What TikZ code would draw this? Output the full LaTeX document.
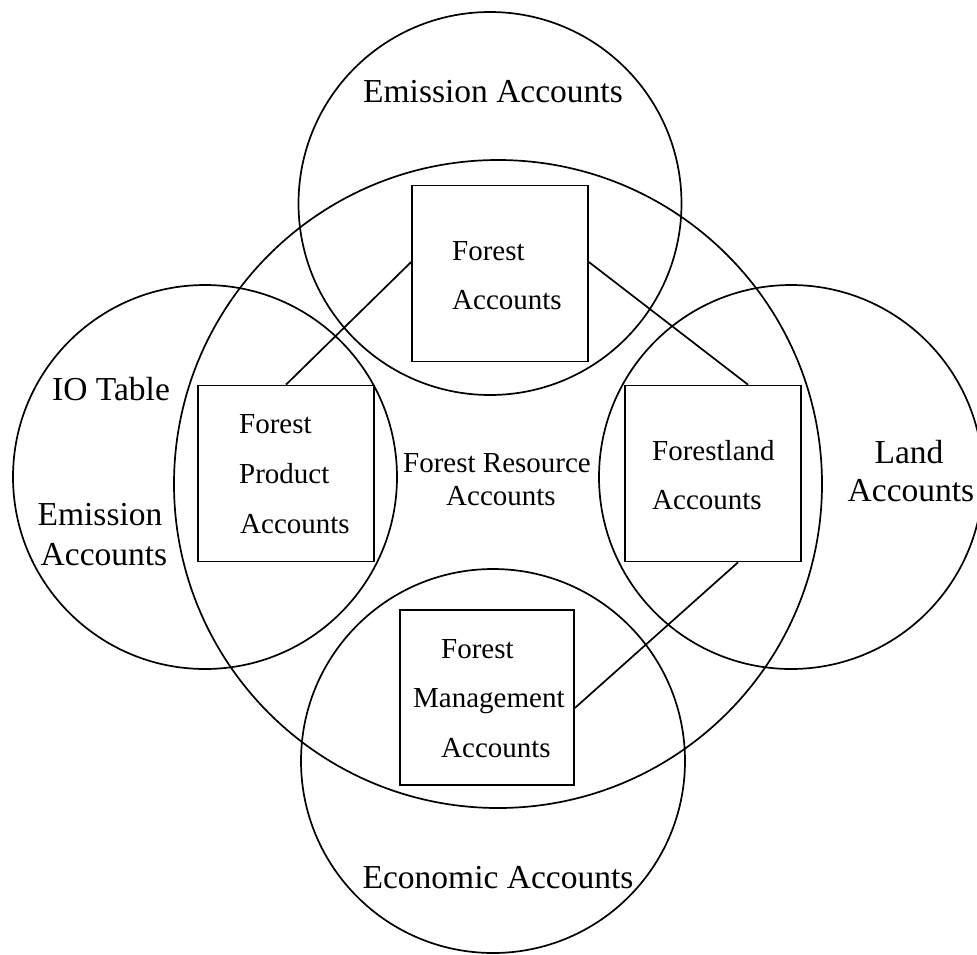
\documentclass[tikz,border=0pt]{standalone}
\usepackage{fontspec}
\setmainfont{Liberation Serif}
\begin{document}
\begin{tikzpicture}[x=1pt,y=-1pt,
  ring/.style={draw,circle,line width=1.7pt,inner sep=0pt},
  acct/.style={draw,rectangle,line width=1.7pt,inner sep=0pt,minimum width=176pt,minimum height=176pt},
  link/.style={line width=1.7pt},
  big/.style={inner sep=0pt,font=\fontsize{33.5}{36}\selectfont},
  small/.style={inner sep=0pt,font=\fontsize{29}{32}\selectfont}]
\useasboundingbox (0,0) rectangle (977,954);
% circles
\node[ring,minimum size=648pt] (res) at (498,484) {};
\node[ring,minimum size=383pt] (top) at (490,203.5) {};
\node[ring,minimum size=384pt] (left) at (205,477) {};
\node[ring,minimum size=384pt] (right) at (791,477) {};
\node[ring,minimum size=384pt] (bottom) at (493,761) {};
% boxes
\node[acct] (fa) at (500,273.5) {};
\node[acct] (fp) at (286,473.5) {};
\node[acct] (fl) at (713,473.5) {};
\node[acct,minimum width=174pt,minimum height=175pt] (fm) at (487,697.5) {};
% connectors
\draw[link] ([yshift=11.5pt]fa.west) -- (fp.north);
\draw[link] ([yshift=11.5pt]fa.east) -- ([xshift=35pt]fl.north);
\draw[link] ([yshift=-10.5pt]fm.east) -- ([xshift=25pt]fl.south);
% outer labels
\node[big,anchor=base] (t1) at (493,102) {Emission Accounts};
\node[big,anchor=base west] (t2) at (52,400) {IO Table};
\node[big,anchor=base] (t3) at (100,525) {Emission};
\node[big,anchor=base] (t4) at (104,565) {Accounts};
\node[big,anchor=base] (t5) at (909,463) {Land};
\node[big,anchor=base] (t6) at (911,501) {Accounts};
\node[big,anchor=base] (t7) at (498,888) {Economic Accounts};
% inner labels
\node[small,anchor=base] (r1) at (497,472) {Forest Resource};
\node[small,anchor=base] (r2) at (501,505) {Accounts};
\node[small,anchor=base west] (a1) at (452,260) {Forest};
\node[small,anchor=base west] (a2) at (452,309) {Accounts};
\node[small,anchor=base west] (p1) at (239,433) {Forest};
\node[small,anchor=base west] (p2) at (239,483) {Product};
\node[small,anchor=base west] (p3) at (240,533) {Accounts};
\node[small,anchor=base west] (l1) at (652,460) {Forestland};
\node[small,anchor=base west] (l2) at (652,509) {Accounts};
\node[small,anchor=base west] (m1) at (441,658) {Forest};
\node[small,anchor=base west] (m2) at (413,707) {Management};
\node[small,anchor=base west] (m3) at (441,757) {Accounts};
\end{tikzpicture}
\end{document}
